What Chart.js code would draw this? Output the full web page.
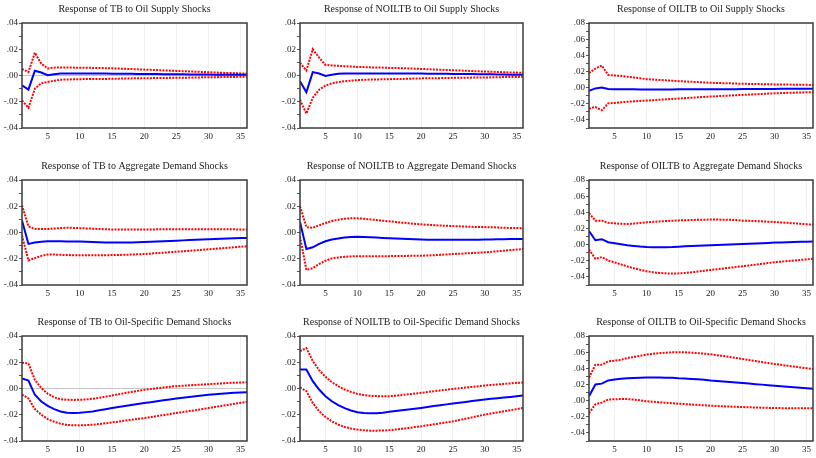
<!DOCTYPE html>
<html>
<head>
<meta charset="utf-8">
<script src="https://cdn.jsdelivr.net/npm/chart.js@4.4.1/dist/chart.umd.min.js"></script>
<style>
html,body{margin:0;padding:0;background:#fff;overflow:hidden;}
body{width:816px;height:458px;position:relative;}
.p{position:absolute;}
</style>
</head>
<body>
<script>
// Horizon (periods)
const periods = Array.from({length:36},(_,i)=>i+1);
const xTickLabels = [5,10,15,20,25,30,35];
const yTicksNarrow = [-0.04,-0.02,0,0.02,0.04];
const yTicksWide = [-0.04,-0.02,0,0.02,0.04,0.06,0.08];

const titles = [
 "Response of TB to Oil Supply Shocks",
 "Response of NOILTB to Oil Supply Shocks",
 "Response of OILTB to Oil Supply Shocks",
 "Response of TB to Aggregate Demand Shocks",
 "Response of NOILTB to Aggregate Demand Shocks",
 "Response of OILTB to Aggregate Demand Shocks",
 "Response of TB to Oil-Specific Demand Shocks",
 "Response of NOILTB to Oil-Specific Demand Shocks",
 "Response of OILTB to Oil-Specific Demand Shocks"
];

// 1: TB to Oil Supply
const tbOsMid=[-0.0074,-0.0108,0.0036,0.0023,0.0002,0.0010,0.0015,0.0016,0.0016,0.0016,0.0016,0.0015,0.0015,0.0015,0.0014,0.0014,0.0013,0.0013,0.0012,0.0012,0.0011,0.0011,0.0010,0.0010,0.0009,0.0009,0.0008,0.0008,0.0007,0.0007,0.0006,0.0006,0.0006,0.0005,0.0005,0.0005];
const tbOsUp=[0.0050,0.0026,0.0174,0.0090,0.0054,0.0060,0.0061,0.0061,0.0060,0.0060,0.0059,0.0058,0.0057,0.0056,0.0055,0.0053,0.0051,0.0049,0.0047,0.0045,0.0043,0.0041,0.0039,0.0037,0.0035,0.0033,0.0031,0.0029,0.0027,0.0025,0.0023,0.0021,0.0019,0.0018,0.0016,0.0015];
const tbOsLo=[-0.0190,-0.0246,-0.0100,-0.0060,-0.0049,-0.0040,-0.0032,-0.0030,-0.0029,-0.0028,-0.0027,-0.0027,-0.0026,-0.0026,-0.0025,-0.0024,-0.0023,-0.0022,-0.0021,-0.0020,-0.0020,-0.0019,-0.0019,-0.0018,-0.0017,-0.0017,-0.0016,-0.0015,-0.0014,-0.0013,-0.0013,-0.0012,-0.0011,-0.0011,-0.0010,-0.0010];
// 2: NOILTB to Oil Supply
const noOsMid=[-0.0044,-0.0128,0.0026,0.0015,-0.0003,0.0005,0.0013,0.0015,0.0015,0.0016,0.0016,0.0016,0.0016,0.0016,0.0016,0.0015,0.0015,0.0015,0.0015,0.0015,0.0014,0.0014,0.0013,0.0013,0.0012,0.0012,0.0011,0.0011,0.0010,0.0010,0.0009,0.0008,0.0007,0.0006,0.0006,0.0005];
const noOsUp=[0.0097,0.0038,0.0200,0.0136,0.0080,0.0077,0.0074,0.0071,0.0068,0.0065,0.0064,0.0062,0.0061,0.0060,0.0058,0.0057,0.0055,0.0054,0.0052,0.0050,0.0048,0.0046,0.0044,0.0042,0.0040,0.0038,0.0036,0.0034,0.0032,0.0030,0.0029,0.0027,0.0025,0.0023,0.0022,0.0020];
const noOsLo=[-0.0185,-0.0290,-0.0170,-0.0108,-0.0077,-0.0060,-0.0050,-0.0044,-0.0039,-0.0035,-0.0033,-0.0031,-0.0030,-0.0029,-0.0028,-0.0027,-0.0026,-0.0025,-0.0023,-0.0022,-0.0021,-0.0021,-0.0020,-0.0019,-0.0018,-0.0018,-0.0017,-0.0016,-0.0016,-0.0015,-0.0014,-0.0013,-0.0012,-0.0011,-0.0011,-0.0010];
// 3: OILTB to Oil Supply
const oiOsMid=[-0.0040,-0.0010,0.0000,-0.0017,-0.0020,-0.0021,-0.0021,-0.0021,-0.0022,-0.0022,-0.0022,-0.0022,-0.0022,-0.0022,-0.0021,-0.0021,-0.0021,-0.0021,-0.0020,-0.0020,-0.0020,-0.0019,-0.0019,-0.0019,-0.0018,-0.0018,-0.0017,-0.0017,-0.0016,-0.0016,-0.0015,-0.0015,-0.0014,-0.0014,-0.0013,-0.0013];
const oiOsUp=[0.0180,0.0236,0.0273,0.0157,0.0150,0.0145,0.0135,0.0125,0.0115,0.0105,0.0100,0.0095,0.0090,0.0085,0.0080,0.0076,0.0072,0.0068,0.0064,0.0060,0.0058,0.0055,0.0053,0.0050,0.0048,0.0046,0.0045,0.0043,0.0042,0.0040,0.0039,0.0038,0.0036,0.0035,0.0034,0.0033];
const oiOsLo=[-0.0260,-0.0240,-0.0280,-0.0195,-0.0190,-0.0182,-0.0175,-0.0170,-0.0165,-0.0160,-0.0155,-0.0150,-0.0145,-0.0140,-0.0135,-0.0130,-0.0125,-0.0120,-0.0115,-0.0110,-0.0106,-0.0102,-0.0098,-0.0094,-0.0090,-0.0086,-0.0082,-0.0078,-0.0074,-0.0070,-0.0068,-0.0065,-0.0063,-0.0060,-0.0058,-0.0056];
// 4: TB to Aggregate Demand
const tbAdMid=[0.0092,-0.0087,-0.0077,-0.0071,-0.0067,-0.0067,-0.0067,-0.0068,-0.0068,-0.0069,-0.0070,-0.0072,-0.0074,-0.0076,-0.0077,-0.0077,-0.0077,-0.0076,-0.0074,-0.0072,-0.0071,-0.0069,-0.0067,-0.0065,-0.0062,-0.0060,-0.0058,-0.0056,-0.0054,-0.0051,-0.0049,-0.0047,-0.0046,-0.0044,-0.0042,-0.0041];
const tbAdUp=[0.0208,0.0046,0.0028,0.0026,0.0026,0.0030,0.0034,0.0036,0.0035,0.0033,0.0031,0.0029,0.0027,0.0025,0.0023,0.0023,0.0023,0.0023,0.0023,0.0023,0.0023,0.0024,0.0024,0.0025,0.0025,0.0025,0.0025,0.0025,0.0025,0.0025,0.0025,0.0024,0.0024,0.0024,0.0023,0.0023];
const tbAdLo=[-0.0023,-0.0213,-0.0195,-0.0178,-0.0167,-0.0168,-0.0170,-0.0172,-0.0173,-0.0174,-0.0174,-0.0174,-0.0173,-0.0173,-0.0172,-0.0171,-0.0170,-0.0168,-0.0166,-0.0164,-0.0161,-0.0157,-0.0154,-0.0150,-0.0146,-0.0143,-0.0139,-0.0136,-0.0132,-0.0128,-0.0124,-0.0120,-0.0116,-0.0112,-0.0108,-0.0105];
// 5: NOILTB to Aggregate Demand
const noAdMid=[0.0080,-0.0126,-0.0113,-0.0087,-0.0067,-0.0054,-0.0046,-0.0038,-0.0035,-0.0033,-0.0034,-0.0036,-0.0039,-0.0042,-0.0044,-0.0046,-0.0048,-0.0050,-0.0052,-0.0054,-0.0055,-0.0055,-0.0056,-0.0056,-0.0056,-0.0056,-0.0056,-0.0055,-0.0055,-0.0054,-0.0053,-0.0052,-0.0051,-0.0050,-0.0050,-0.0049];
const noAdUp=[0.0200,0.0041,0.0036,0.0055,0.0072,0.0087,0.0097,0.0105,0.0108,0.0108,0.0105,0.0100,0.0095,0.0090,0.0085,0.0080,0.0075,0.0071,0.0066,0.0062,0.0059,0.0056,0.0053,0.0051,0.0049,0.0047,0.0045,0.0043,0.0042,0.0041,0.0040,0.0038,0.0036,0.0035,0.0034,0.0033];
const noAdLo=[-0.0030,-0.0285,-0.0272,-0.0240,-0.0215,-0.0197,-0.0190,-0.0185,-0.0182,-0.0180,-0.0180,-0.0180,-0.0180,-0.0180,-0.0180,-0.0179,-0.0179,-0.0178,-0.0178,-0.0177,-0.0175,-0.0173,-0.0170,-0.0167,-0.0164,-0.0162,-0.0159,-0.0157,-0.0154,-0.0151,-0.0147,-0.0143,-0.0139,-0.0134,-0.0130,-0.0126];
// 6: OILTB to Aggregate Demand
const oiAdMid=[0.0168,0.0054,0.0067,0.0030,0.0017,0.0005,-0.0008,-0.0016,-0.0024,-0.0030,-0.0033,-0.0034,-0.0033,-0.0030,-0.0025,-0.0021,-0.0018,-0.0014,-0.0011,-0.0008,-0.0005,-0.0002,0.0002,0.0005,0.0008,0.0011,0.0014,0.0018,0.0021,0.0025,0.0027,0.0029,0.0031,0.0034,0.0036,0.0038];
const oiAdUp=[0.0390,0.0297,0.0297,0.0270,0.0264,0.0258,0.0255,0.0260,0.0268,0.0276,0.0282,0.0287,0.0292,0.0296,0.0300,0.0302,0.0305,0.0307,0.0309,0.0310,0.0310,0.0309,0.0307,0.0304,0.0297,0.0294,0.0291,0.0288,0.0284,0.0280,0.0275,0.0270,0.0264,0.0258,0.0252,0.0247];
const oiAdLo=[-0.0059,-0.0176,-0.0155,-0.0197,-0.0220,-0.0245,-0.0270,-0.0292,-0.0312,-0.0330,-0.0342,-0.0350,-0.0356,-0.0357,-0.0356,-0.0351,-0.0343,-0.0334,-0.0324,-0.0314,-0.0305,-0.0296,-0.0287,-0.0277,-0.0268,-0.0258,-0.0248,-0.0238,-0.0228,-0.0218,-0.0211,-0.0204,-0.0197,-0.0190,-0.0183,-0.0176];
// 7: TB to Oil-Specific Demand
const tbOdMid=[0.0076,0.0061,-0.0048,-0.0099,-0.0132,-0.0157,-0.0175,-0.0185,-0.0187,-0.0185,-0.0180,-0.0175,-0.0166,-0.0158,-0.0149,-0.0141,-0.0134,-0.0126,-0.0118,-0.0111,-0.0104,-0.0097,-0.0090,-0.0083,-0.0076,-0.0070,-0.0064,-0.0059,-0.0053,-0.0048,-0.0044,-0.0040,-0.0036,-0.0033,-0.0030,-0.0028];
const tbOdUp=[0.0197,0.0190,0.0066,0.0003,-0.0040,-0.0068,-0.0081,-0.0086,-0.0087,-0.0086,-0.0083,-0.0078,-0.0071,-0.0062,-0.0053,-0.0044,-0.0035,-0.0026,-0.0018,-0.0010,-0.0004,0.0002,0.0008,0.0013,0.0018,0.0021,0.0024,0.0027,0.0030,0.0033,0.0036,0.0039,0.0042,0.0044,0.0046,0.0048];
const tbOdLo=[-0.0046,-0.0076,-0.0157,-0.0200,-0.0233,-0.0253,-0.0268,-0.0278,-0.0280,-0.0281,-0.0279,-0.0276,-0.0271,-0.0265,-0.0258,-0.0252,-0.0245,-0.0238,-0.0232,-0.0225,-0.0218,-0.0210,-0.0203,-0.0195,-0.0187,-0.0180,-0.0172,-0.0165,-0.0157,-0.0149,-0.0141,-0.0133,-0.0125,-0.0117,-0.0109,-0.0101];
// 8: NOILTB to Oil-Specific Demand
const noOdMid=[0.0145,0.0145,0.0056,-0.0008,-0.0059,-0.0097,-0.0127,-0.0150,-0.0168,-0.0181,-0.0186,-0.0189,-0.0188,-0.0184,-0.0178,-0.0172,-0.0166,-0.0160,-0.0154,-0.0148,-0.0141,-0.0134,-0.0128,-0.0121,-0.0115,-0.0109,-0.0103,-0.0096,-0.0090,-0.0084,-0.0079,-0.0074,-0.0069,-0.0064,-0.0059,-0.0054];
const noOdUp=[0.0285,0.0308,0.0209,0.0140,0.0089,0.0048,0.0018,-0.0008,-0.0026,-0.0041,-0.0050,-0.0056,-0.0058,-0.0059,-0.0059,-0.0055,-0.0050,-0.0044,-0.0039,-0.0033,-0.0027,-0.0021,-0.0015,-0.0009,-0.0003,0.0002,0.0007,0.0012,0.0017,0.0023,0.0027,0.0031,0.0035,0.0039,0.0043,0.0046];
const noOdLo=[0.0008,-0.0020,-0.0110,-0.0173,-0.0217,-0.0250,-0.0275,-0.0293,-0.0305,-0.0313,-0.0318,-0.0321,-0.0321,-0.0320,-0.0318,-0.0313,-0.0307,-0.0301,-0.0294,-0.0288,-0.0280,-0.0273,-0.0265,-0.0258,-0.0250,-0.0240,-0.0230,-0.0220,-0.0209,-0.0199,-0.0191,-0.0182,-0.0174,-0.0165,-0.0157,-0.0148];
// 9: OILTB to Oil-Specific Demand
const oiOdMid=[0.0055,0.0200,0.0210,0.0250,0.0260,0.0270,0.0277,0.0280,0.0283,0.0285,0.0285,0.0285,0.0284,0.0282,0.0277,0.0274,0.0269,0.0264,0.0258,0.0250,0.0244,0.0237,0.0231,0.0224,0.0218,0.0211,0.0204,0.0198,0.0191,0.0184,0.0178,0.0172,0.0166,0.0159,0.0153,0.0147];
const oiOdUp=[0.0285,0.0444,0.0444,0.0486,0.0495,0.0505,0.0528,0.0540,0.0555,0.0570,0.0580,0.0588,0.0594,0.0598,0.0600,0.0598,0.0594,0.0588,0.0581,0.0574,0.0563,0.0551,0.0540,0.0528,0.0516,0.0503,0.0491,0.0478,0.0466,0.0453,0.0443,0.0432,0.0422,0.0411,0.0401,0.0390];
const oiOdLo=[-0.0155,-0.0046,-0.0025,0.0013,0.0017,0.0020,0.0019,0.0013,0.0003,-0.0008,-0.0014,-0.0020,-0.0026,-0.0032,-0.0038,-0.0043,-0.0048,-0.0053,-0.0058,-0.0063,-0.0067,-0.0070,-0.0074,-0.0077,-0.0080,-0.0082,-0.0085,-0.0087,-0.0090,-0.0092,-0.0093,-0.0093,-0.0094,-0.0095,-0.0095,-0.0096];

const panels = [
 {mid:tbOsMid,up:tbOsUp,lo:tbOsLo,wide:false,zero:true},
 {mid:noOsMid,up:noOsUp,lo:noOsLo,wide:false,zero:false},
 {mid:oiOsMid,up:oiOsUp,lo:oiOsLo,wide:true,zero:false},
 {mid:tbAdMid,up:tbAdUp,lo:tbAdLo,wide:false,zero:false},
 {mid:noAdMid,up:noAdUp,lo:noAdLo,wide:false,zero:false},
 {mid:oiAdMid,up:oiAdUp,lo:oiAdLo,wide:true,zero:false},
 {mid:tbOdMid,up:tbOdUp,lo:tbOdLo,wide:false,zero:true},
 {mid:noOdMid,up:noOdUp,lo:noOdLo,wide:false,zero:false},
 {mid:oiOdMid,up:oiOdUp,lo:oiOdLo,wide:true,zero:false}
];

// layout geometry
const plotLeft=[22,300,589], plotRight=[247,523,813], plotTop=[23,180,336];
const Y_AXIS_W=30, X_AXIS_H=17, TITLE_H=23, PLOT_H=105, PAD_R=2;

function fmt(v){
  if (Math.abs(v)<1e-9) return '.00';
  return (v<0?'-':'')+Math.abs(v).toFixed(2).replace(/^0/,'');
}

const framePlugin={
  id:'frame',
  afterDatasetsDraw(chart){
    const a=chart.chartArea, c=chart.ctx;
    c.save(); c.strokeStyle='#3a3a3a'; c.lineWidth=1.5;
    c.strokeRect(a.left,a.top,a.right-a.left,a.bottom-a.top);
    c.restore();
  }
};

panels.forEach((p,i)=>{
  const col=i%3,row=Math.floor(i/3);
  const left=plotLeft[col]-Y_AXIS_W;
  const width=plotRight[col]-plotLeft[col]+Y_AXIS_W+PAD_R;
  const top=plotTop[row]-TITLE_H;
  const height=TITLE_H+PLOT_H+X_AXIS_H;
  const div=document.createElement('div');
  div.className='p';
  div.style.cssText=`left:${left}px;top:${top}px;width:${width}px;height:${height}px;`;
  const cv=document.createElement('canvas');
  div.appendChild(cv); document.body.appendChild(div);
  const ymin=p.wide?-0.05:-0.04, ymax=p.wide?0.08:0.04;
  const majors=p.wide?yTicksWide:yTicksNarrow;
  const ticks=[];
  for(let k=Math.round(ymin*100);k<=Math.round(ymax*100);k++){ticks.push(k/100);}
  new Chart(cv,{
    type:'line',
    data:{labels:periods,datasets:[
      {data:p.mid,borderColor:'#0000ff',borderWidth:2,pointRadius:0,tension:0},
      {data:p.up,borderColor:'#ff0000',borderWidth:2,borderDash:[2,1.2],pointRadius:0,tension:0},
      {data:p.lo,borderColor:'#ff0000',borderWidth:2,borderDash:[2,1.2],pointRadius:0,tension:0}
    ].map(d=>({...d,data:d.data.map((v,j)=>({x:periods[j],y:v}))}))},
    options:{
      responsive:true,maintainAspectRatio:false,animation:false,
      layout:{padding:{left:0,right:PAD_R,top:0,bottom:0}},
      plugins:{
        legend:{display:false},tooltip:{enabled:false},
        title:{display:true,text:titles[i],fullSize:false,color:'#1a1a1a',
          font:{family:'Liberation Serif',size:10,weight:'normal'},padding:{top:3,bottom:8}}
      },
      scales:{
        x:{type:'linear',min:1,max:36,
          afterBuildTicks(s){s.ticks=xTickLabels.map(v=>({value:v}));},
          afterFit(s){s.height=X_AXIS_H;},
          grid:{color:'#efefef',lineWidth:1,drawTicks:false},
          border:{display:false},
          ticks:{color:'#1a1a1a',font:{family:'Liberation Serif',size:9},padding:3,maxRotation:0,autoSkip:false}
        },
        y:{type:'linear',min:ymin,max:ymax,
          afterBuildTicks(s){s.ticks=ticks.map(v=>({value:v}));},
          afterFit(s){s.width=Y_AXIS_W;},
          grid:{color:c=>(p.zero&&Math.abs(c.tick.value)<1e-9)?'#c4c4c4':'rgba(0,0,0,0)',
                tickColor:'#555',tickLength:3,lineWidth:1},
          border:{display:false},
          ticks:{color:'#1a1a1a',font:{family:'Liberation Serif',size:9},padding:1,autoSkip:false,
            callback:v=>majors.some(m=>Math.abs(m-v)<1e-9)?fmt(v):''}
        }
      }
    },
    plugins:[framePlugin]
  });
});
</script>
</body>
</html>
